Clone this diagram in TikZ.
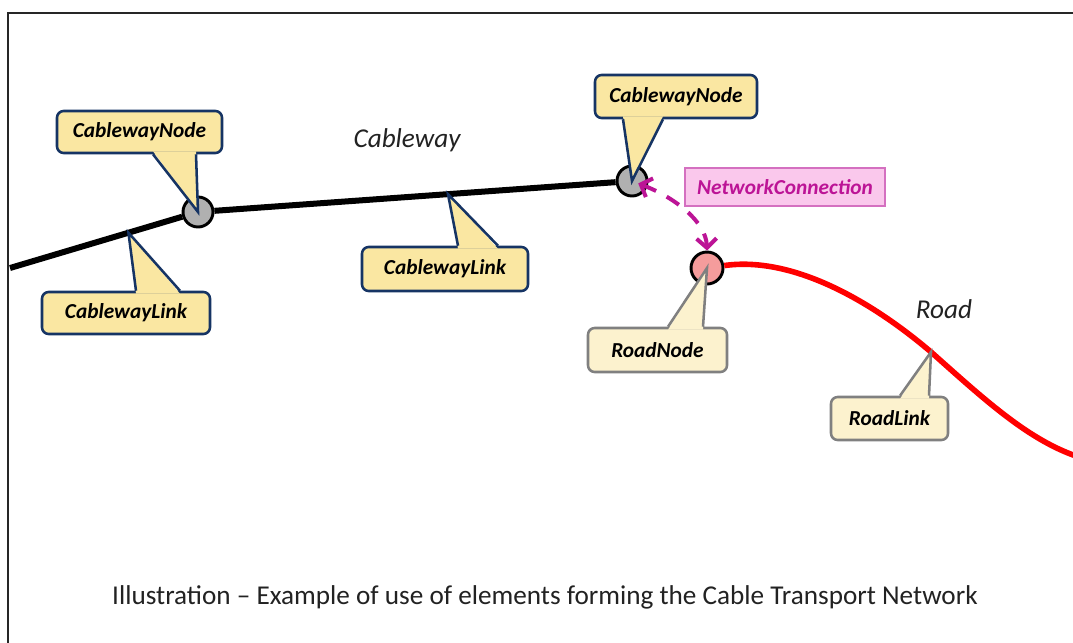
\documentclass[tikz,border=0pt]{standalone}
\usepackage{fontspec}
\setmainfont{Carlito}
\usetikzlibrary{arrows.meta,calc}

\definecolor{cbYellow}{RGB}{250,231,162}
\definecolor{cbNavy}{RGB}{22,52,100}
\definecolor{rdCream}{RGB}{252,242,206}
\definecolor{rdGray}{RGB}{128,128,128}
\definecolor{ndGray}{RGB}{176,176,176}
\definecolor{ndPink}{RGB}{245,156,156}
\definecolor{ncFill}{RGB}{250,200,236}
\definecolor{ncEdge}{RGB}{212,112,192}
\definecolor{ncText}{RGB}{188,20,150}
\definecolor{txtDark}{RGB}{34,34,34}

% callout pointer below a box: #1 style, #2 box node, #3/#4 base offsets from box.south, #5 tip
\newcommand\ptrbelow[5]{%
  \fill[#1,draw=none] ($(#2.south)+(#3,-3)$) -- (#5) -- ($(#2.south)+(#4,-3)$) -- cycle;
  \draw[#1,fill=none,sharp corners,line join=miter] ($(#2.south)+(#3,0)$) -- (#5) -- ($(#2.south)+(#4,0)$);
}
% callout pointer above a box: offsets from box.north
\newcommand\ptrabove[5]{%
  \fill[#1,draw=none] ($(#2.north)+(#3,3)$) -- (#5) -- ($(#2.north)+(#4,3)$) -- cycle;
  \draw[#1,fill=none,sharp corners,line join=miter] ($(#2.north)+(#3,0)$) -- (#5) -- ($(#2.north)+(#4,0)$);
}

\begin{document}
\begin{tikzpicture}[x=0.75pt,y=-0.75pt,
  boxsize/.style 2 args={minimum width=#1*0.75pt, minimum height=#2*0.75pt},
  cwbox/.style={draw=cbNavy, fill=cbYellow, line width=1.9pt, rounded corners=5pt,
    inner sep=0pt, font=\fontsize{16}{19}\selectfont\bfseries\itshape, text=black},
  cwptr/.style={draw=cbNavy, fill=cbYellow, line width=1.9pt},
  rdbox/.style={draw=rdGray, fill=rdCream, line width=1.9pt, rounded corners=5pt,
    inner sep=0pt, font=\fontsize{16}{19}\selectfont\bfseries\itshape, text=black},
  rdptr/.style={draw=rdGray, fill=rdCream, line width=1.9pt},
  gnode/.style={circle, draw=black, fill=ndGray, line width=2.2pt, minimum size=22.5pt, inner sep=0pt},
  pnode/.style={circle, draw=black, fill=ndPink, line width=2.2pt, minimum size=24pt, inner sep=0pt},
  cableline/.style={line width=4.5pt, black},
  roadline/.style={line width=4.2pt, red},
  ncarrow/.style={ncText, line width=3pt, dash pattern=on 11pt off 9pt,
    {Straight Barb[length=7pt,width=15pt,line width=3pt]}-{Straight Barb[length=7pt,width=15pt,line width=3pt]}},
  netlabel/.style={font=\fontsize{20.4}{24}\selectfont\itshape, text=txtDark},
]
\clip (0,0) rectangle (1073,642);
\fill[white] (0,0) rectangle (1073,642);

% frame
\draw[line width=1.6pt, black!85] (8,700) -- (8,13) -- (1100,13);

% network nodes
\node[gnode] (n1) at (198,212) {};
\node[gnode] (n2) at (632,181) {};
\node[pnode] (rn) at (707,268) {};

% cableway
\coordinate (cw0) at (10,268);
\draw[cableline] (cw0) -- (n1);
\draw[cableline] (n1) -- (n2);
\path (cw0) -- (n1.center) coordinate[pos=0.63] (l1tip);
\path (n1.center) -- (n2.center) coordinate[pos=0.576] (l2tip);

% road
\coordinate (rd1) at (931,352);
\coordinate (rdend) at (1082,458);
\draw[roadline] (rn) .. controls (792,256) and (870,300) .. (rd1)
  .. controls (985,400) and (1030,442) .. (rdend);

% network connection
\draw[ncarrow, shorten <=5pt] (n2.center) .. controls (676,198) and (706,222) .. (rn.north);
\node[draw=ncEdge, fill=ncFill, line width=1pt, boxsize={200}{38}, inner sep=0pt,
  font=\fontsize{16}{19}\selectfont\bfseries\itshape, text=ncText] (nc) at (785,187) {NetworkConnection};

% labels
\node[netlabel] (cwlab) at (407,140) {Cableway};
\node[netlabel] (rdlab) at (944,309) {Road};

% callouts
\node[cwbox, boxsize={165}{42}] (cn1) at (139.5,132) {CablewayNode};
\ptrbelow{cwptr}{cn1}{13.5}{56.5}{n1.center}

\node[cwbox, boxsize={168}{42}] (cl1) at (126,313) {CablewayLink};
\ptrabove{cwptr}{cl1}{10}{54}{l1tip}

\node[cwbox, boxsize={166}{44}] (cl2) at (445,269) {CablewayLink};
\ptrabove{cwptr}{cl2}{13}{53}{l2tip}

\node[cwbox, boxsize={162}{43}] (cn2) at (676,96.5) {CablewayNode};
\ptrbelow{cwptr}{cn2}{-53}{-13}{n2.center}

\node[rdbox, boxsize={139}{44}] (rnb) at (657.5,350) {RoadNode};
\ptrabove{rdptr}{rnb}{10.5}{45.5}{rn.center}

\node[rdbox, boxsize={117}{43}] (rlb) at (889.5,418.5) {RoadLink};
\ptrabove{rdptr}{rlb}{10.5}{39.5}{rd1}

% caption
\node[font=\fontsize{20.4}{24}\selectfont, text=txtDark] (cap) at (545,597)
  {Illustration – Example of use of elements forming the Cable Transport Network};
\end{tikzpicture}
\end{document}
